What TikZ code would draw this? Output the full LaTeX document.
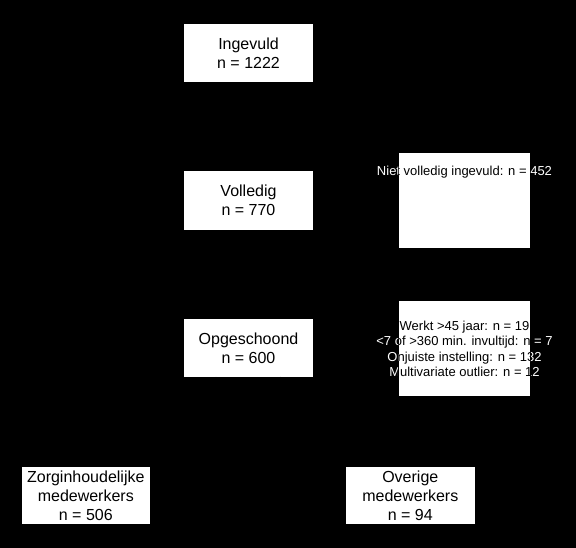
\documentclass[tikz,border=0pt]{standalone}
\usepackage{fontspec}
\setmainfont{Liberation Sans}
\usetikzlibrary{arrows.meta}
\tikzset{
  box/.style={draw=none, fill=white, inner sep=0pt, align=center, text=black,
              font=\fontsize{16}{19}\selectfont},
  sidebox/.style={draw=none, fill=white, inner sep=0pt, minimum width=131pt, minimum height=95pt},
  small/.style={inner sep=0pt, align=center, font=\fontsize{13}{15.5}\selectfont},
  conn/.style={draw=black, line width=0.8pt, -{Stealth[length=6pt]}}
}
\newcommand\sideA{Niet volledig ingevuld: n = 452}
\newcommand\sideB{Werkt >45 jaar: n = 19\\<7 of >360 min. invultijd: n = 7\\Onjuiste instelling: n = 132\\Multivariate outlier: n = 12}
\begin{document}
\begin{tikzpicture}[x=1pt,y=-1pt]
\fill[black] (0,0) rectangle (576,548);
\useasboundingbox (0,0) rectangle (576,548);

\node[box, minimum width=129pt, minimum height=58pt] (ing) at (248.5,53) {Ingevuld\\n = 1222};
\node[box, minimum width=129pt, minimum height=59pt] (vol) at (248.5,200.5) {Volledig\\n = 770};
\node[box, minimum width=129pt, minimum height=58pt] (ops) at (248.5,348) {Opgeschoond\\n = 600};
\node[box, minimum width=128pt, minimum height=57.5pt] (zorg) at (85.8,495.5) {Zorginhoudelijke\\medewerkers\\n = 506};
\node[box, minimum width=128.5pt, minimum height=57.5pt] (over) at (410.3,495.5) {Overige\\medewerkers\\n = 94};

\node[sidebox] (rb1) at (464.5,200.5) {};
\node[sidebox] (rb2) at (464.5,348.5) {};

% connectors (black, as in the reference)
\coordinate (c1) at (248.5,126);
\coordinate (c2) at (248.5,274);
\draw[conn] (ing) -- (vol);
\draw[conn] (vol) -- (ops);
\draw[conn] (c1) -- (c1 -| rb1.west);
\draw[conn] (c2) -- (c2 -| rb2.west);
\draw[conn] (ops) -- (zorg);
\draw[conn] (ops) -- (over);

% side texts: white where they overflow, black inside the boxes
\node[small, text=white] (t1w) at (464.5,172) {\sideA};
\node[small, text=white] (t2w) at (464.5,349) {\sideB};
\begin{scope}
  \clip (rb1.north west) rectangle (rb1.south east);
  \node[small, text=black] (t1) at (464.5,172) {\sideA};
\end{scope}
\begin{scope}
  \clip (rb2.north west) rectangle (rb2.south east);
  \node[small, text=black] (t2) at (464.5,349) {\sideB};
\end{scope}
\end{tikzpicture}
\end{document}
